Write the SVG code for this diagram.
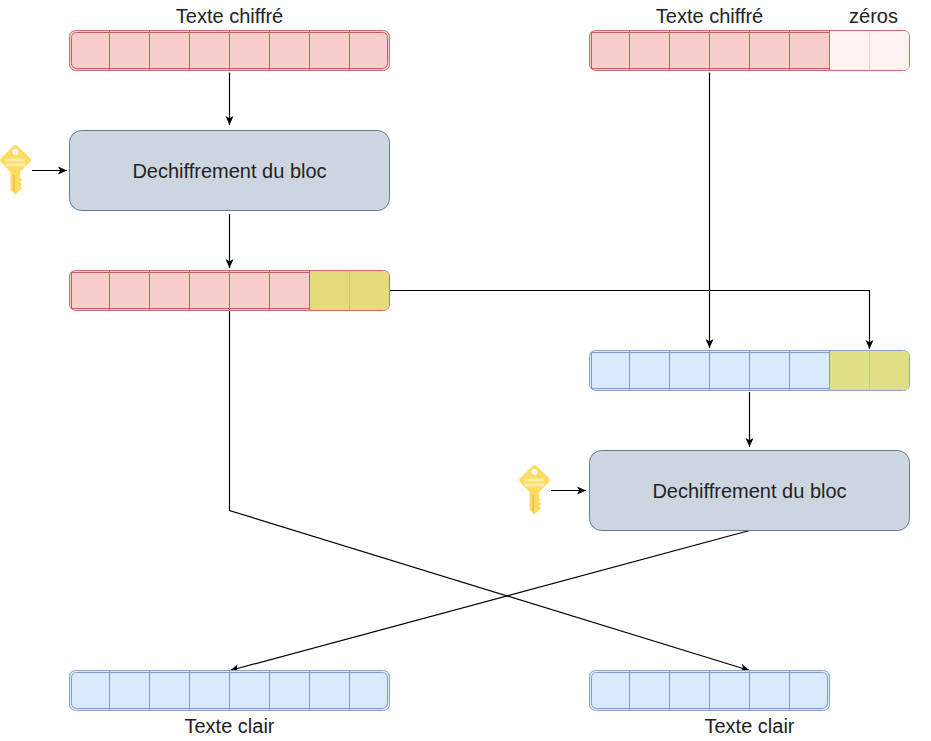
<svg xmlns="http://www.w3.org/2000/svg" xmlns:xlink="http://www.w3.org/1999/xlink" width="931" height="741" viewBox="0 0 931 741">
<style>
text{font-family:"Liberation Sans",Arial,sans-serif;font-size:20px;fill:#222;text-anchor:middle}
.edge{fill:none;stroke:#000;stroke-width:1.2}
.r{fill:#f8cecc;stroke:#cc6f6b;stroke-width:1}
.b{fill:#dae8fc;stroke:#85a3cc;stroke-width:1}
.in{fill:none;stroke-width:1}
.rl{stroke:#c4615d}
.bl{stroke:#7f9dc8}
.proc{fill:#cdd6e0;stroke:#5f7f99;stroke-width:1}
.y1{fill:#e3db7c}
.y2{fill:#dfe085}
.w{fill:#fef3f2}
</style>
<defs>
<marker id="arrow" markerUnits="userSpaceOnUse" markerWidth="12" markerHeight="12" refX="9" refY="5" orient="auto">
<path d="M0,1 L9,5 L0,9 L2.2,5 Z" fill="#000"/>
</marker>
<g id="key">
<path d="M15.500,145 Q16.500,145 17.500,146 L30,158 Q32,160 30,162 L20,172 L20,178 L22,180 L20,182 L22,184 L20,186 L22,188 L20,190 L15.500,194.500 L10.500,190 L10.500,172 L1,162 Q-1,160 1,158 L13.500,146 Q14.500,145 15.500,145 Z" fill="#ffdb63"/>
<path d="M13,175 L13,190 L15,192 L15,175 Z" fill="#f5c24d"/>
<circle cx="15.500" cy="152" r="3" fill="#fff"/>
<rect x="6" y="158.500" width="19" height="3" fill="#ffeca6"/>
<rect x="6" y="163.500" width="19" height="3" fill="#ffeca6"/>
</g>
</defs>
<g id="connectors" class="edge">
<path d="M229.500,72.500 V125" marker-end="url(#arrow)"/>
<path d="M32,170.500 H67" marker-end="url(#arrow)"/>
<path d="M229.500,214 V268" marker-end="url(#arrow)"/>
<path d="M389.500,290.500 H869.500 V349" marker-end="url(#arrow)"/>
<path d="M709.500,72.500 V348" marker-end="url(#arrow)"/>
<path d="M749.500,392 V447" marker-end="url(#arrow)"/>
<path d="M551,490.500 H586" marker-end="url(#arrow)"/>
<path d="M749.500,530.500 L230,670.500" marker-end="url(#arrow)"/>
<path d="M229.500,310.500 V510.500 L749.500,670.500" marker-end="url(#arrow)"/>
</g>
<g id="cipher-1">
<rect class="r" x="69.500" y="30.500" width="320" height="40" rx="6"/>
<rect class="in rl" x="71.500" y="32.500" width="316" height="36" rx="5"/>
<path class="in rl" d="M109.500,30.500V70.500M149.500,30.500V70.500M189.500,30.500V70.500M229.500,30.500V70.500M269.500,30.500V70.500M309.500,30.500V70.500M349.500,30.500V70.500"/>
<text x="229.500" y="23">Texte chiffré</text>
</g>
<g id="cipher-2">
<rect class="r" x="589.500" y="30.500" width="320" height="40" rx="6"/>
<path class="w" d="M829.500,31H903.500Q909,31 909,36.500V64.500Q909,70 903.500,70H829.500Z"/>
<rect class="in rl" x="591.500" y="32.500" width="238" height="36"/>
<path class="in rl" d="M629.500,30.500V70.500M669.500,30.500V70.500M709.500,30.500V70.500M749.500,30.500V70.500M789.500,30.500V70.500M829.500,30.500V70.500"/>
<path fill="none" stroke="#f0d3d1" d="M869.500,31V70"/>
<text x="709.500" y="23">Texte chiffré</text>
<text x="873.500" y="23">zéros</text>
</g>
<g id="decrypt-1">
<rect class="proc" x="69.500" y="130.500" width="320" height="80" rx="12"/>
<text x="229.500" y="177.500">Dechiffrement du bloc</text>
</g>
<g id="key-1"><use href="#key" xlink:href="#key"/></g>
<g id="intermediate">
<rect class="r" x="69.500" y="270.500" width="320" height="40" rx="6"/>
<path class="y1" d="M309.500,271H383.500Q389,271 389,276.500V304.500Q389,310 383.500,310H309.500Z"/>
<rect class="in rl" x="71.500" y="272.500" width="238" height="36"/>
<path class="in rl" d="M109.500,270.500V310.500M149.500,270.500V310.500M189.500,270.500V310.500M229.500,270.500V310.500M269.500,270.500V310.500M309.500,270.500V310.500"/>
<path fill="none" stroke="#cfc46c" d="M349.500,271V310"/>
</g>
<g id="padded">
<rect class="b" x="589.500" y="350.500" width="320" height="40" rx="6"/>
<path class="y2" d="M829.500,351H903.500Q909,351 909,356.500V384.500Q909,390 903.500,390H829.500Z"/>
<rect class="in bl" x="591.500" y="352.500" width="238" height="36"/>
<path class="in bl" d="M629.500,350.500V390.500M669.500,350.500V390.500M709.500,350.500V390.500M749.500,350.500V390.500M789.500,350.500V390.500M829.500,350.500V390.500"/>
<path fill="none" stroke="#c9cb8a" d="M869.500,351V390"/>
</g>
<g id="decrypt-2">
<rect class="proc" x="589.500" y="450.500" width="320" height="80" rx="12"/>
<text x="749.500" y="497.500">Dechiffrement du bloc</text>
</g>
<g id="key-2"><use href="#key" xlink:href="#key" x="519" y="320"/></g>
<g id="plain-1">
<rect class="b" x="69.500" y="670.500" width="320" height="40" rx="6"/>
<rect class="in bl" x="71.500" y="672.500" width="316" height="36" rx="5"/>
<path class="in bl" d="M109.500,670.500V710.500M149.500,670.500V710.500M189.500,670.500V710.500M229.500,670.500V710.500M269.500,670.500V710.500M309.500,670.500V710.500M349.500,670.500V710.500"/>
<text x="229.500" y="733">Texte clair</text>
</g>
<g id="plain-2">
<rect class="b" x="589.500" y="670.500" width="240" height="40" rx="6"/>
<rect class="in bl" x="591.500" y="672.500" width="236" height="36" rx="5"/>
<path class="in bl" d="M629.500,670.500V710.500M669.500,670.500V710.500M709.500,670.500V710.500M749.500,670.500V710.500M789.500,670.500V710.500"/>
<text x="749.500" y="733">Texte clair</text>
</g>
</svg>
